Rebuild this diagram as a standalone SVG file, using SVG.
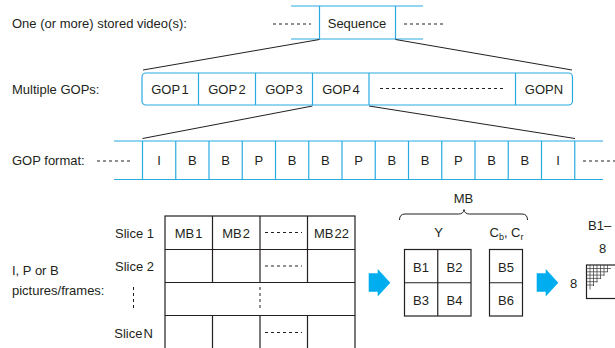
<svg xmlns="http://www.w3.org/2000/svg" width="615" height="348" viewBox="0 0 615 348">
  <style>
    text { font-family: "Liberation Sans", Arial, sans-serif; font-size: 13px; fill: #231f20; }
    .c { text-anchor: middle; }
    .r { text-anchor: end; }
    .blue { stroke: #29abe2; stroke-width: 1.2; fill: none; }
    .cell { stroke: #29abe2; stroke-width: 1.2; fill: #ffffff; }
    .blk { stroke: #231f20; stroke-width: 1.2; fill: #ffffff; }
    .zoom { stroke: #231f20; stroke-width: 1; fill: none; }
    .dash { stroke: #231f20; stroke-width: 1; stroke-dasharray: 3 3; fill: none; }
    .arrow { fill: #00aeef; }
    .grid { stroke: #333333; stroke-width: 0.7; fill: none; }
  </style>

  <!-- level labels -->
  <g id="labels">
    <text x="12" y="28">One (or more) stored video(s):</text>
    <text x="12" y="94">Multiple GOPs:</text>
    <text x="12" y="165">GOP format:</text>
    <text x="12" y="275">I, P or B</text>
    <text x="12" y="295">pictures/frames:</text>
  </g>

  <!-- stored video: sequence -->
  <g id="sequence">
    <line class="dash" x1="273" y1="24" x2="311" y2="24"/>
    <line class="dash" x1="404" y1="24" x2="443" y2="24"/>
    <line class="blue" x1="291" y1="6" x2="423" y2="6"/>
    <line class="blue" x1="291" y1="39" x2="423" y2="39"/>
    <line class="blue" x1="319.5" y1="6" x2="319.5" y2="39"/>
    <line class="blue" x1="395.5" y1="6" x2="395.5" y2="39"/>
    <text class="c" x="357" y="28">Sequence</text>
  </g>

  <!-- expansion connectors -->
  <g id="connectors">
    <line class="zoom" x1="319.5" y1="39.5" x2="143" y2="70"/>
    <line class="zoom" x1="395.5" y1="39.5" x2="572" y2="70"/>
    <line class="zoom" x1="312.5" y1="106" x2="142.5" y2="138.5"/>
    <line class="zoom" x1="369" y1="106" x2="575" y2="138.5"/>
  </g>

  <!-- GOPs -->
  <g id="gops">
    <rect class="cell" x="142" y="73" width="430.5" height="32" rx="4"/>
    <line class="blue" x1="198.5" y1="73" x2="198.5" y2="105"/>
    <line class="blue" x1="255.5" y1="73" x2="255.5" y2="105"/>
    <line class="blue" x1="312.5" y1="73" x2="312.5" y2="105"/>
    <line class="blue" x1="369" y1="73" x2="369" y2="105"/>
    <line class="blue" x1="515.5" y1="73" x2="515.5" y2="105"/>
    <text class="c" x="170" y="94">GOP<tspan dx="1.5">1</tspan></text>
    <text class="c" x="227" y="94">GOP<tspan dx="1.5">2</tspan></text>
    <text class="c" x="284" y="94">GOP<tspan dx="1.5">3</tspan></text>
    <text class="c" x="341" y="94">GOP<tspan dx="1.5">4</tspan></text>
    <line class="dash" x1="380" y1="88.5" x2="505" y2="88.5"/>
    <text class="c" x="544" y="94">GOPN</text>
  </g>

  <!-- GOP format: frame sequence -->
  <g id="gop-format">
    <line class="dash" x1="97" y1="161" x2="131" y2="161"/>
    <line class="dash" x1="583" y1="161" x2="615" y2="161"/>
    <line class="blue" x1="114" y1="141" x2="603" y2="141"/>
    <line class="blue" x1="114" y1="179.5" x2="603" y2="179.5"/>
    <g class="blue">
      <line x1="142.5" y1="141" x2="142.5" y2="179.5"/>
      <line x1="175.75" y1="141" x2="175.75" y2="179.5"/>
      <line x1="209" y1="141" x2="209" y2="179.5"/>
      <line x1="242.25" y1="141" x2="242.25" y2="179.5"/>
      <line x1="275.5" y1="141" x2="275.5" y2="179.5"/>
      <line x1="308.75" y1="141" x2="308.75" y2="179.5"/>
      <line x1="342" y1="141" x2="342" y2="179.5"/>
      <line x1="375.25" y1="141" x2="375.25" y2="179.5"/>
      <line x1="408.5" y1="141" x2="408.5" y2="179.5"/>
      <line x1="441.75" y1="141" x2="441.75" y2="179.5"/>
      <line x1="475" y1="141" x2="475" y2="179.5"/>
      <line x1="508.25" y1="141" x2="508.25" y2="179.5"/>
      <line x1="541.5" y1="141" x2="541.5" y2="179.5"/>
      <line x1="574.75" y1="141" x2="574.75" y2="179.5"/>
    </g>
    <text class="c" x="159.1" y="165">I</text>
    <text class="c" x="192.4" y="165">B</text>
    <text class="c" x="225.6" y="165">B</text>
    <text class="c" x="258.9" y="165">P</text>
    <text class="c" x="292.1" y="165">B</text>
    <text class="c" x="325.4" y="165">B</text>
    <text class="c" x="358.6" y="165">P</text>
    <text class="c" x="391.9" y="165">B</text>
    <text class="c" x="425.1" y="165">B</text>
    <text class="c" x="458.4" y="165">P</text>
    <text class="c" x="491.6" y="165">B</text>
    <text class="c" x="524.9" y="165">B</text>
    <text class="c" x="558.1" y="165">I</text>
  </g>

  <!-- picture split into slices of macroblocks -->
  <g id="slices">
    <text class="r" x="154" y="238">Slice 1</text>
    <text class="r" x="154" y="271">Slice 2</text>
    <line class="dash" x1="133.5" y1="287" x2="133.5" y2="311" stroke-dasharray="3 2.5"/>
    <text class="r" x="153" y="338" word-spacing="-2.5">Slice N</text>
    <rect class="blk" x="165" y="216" width="190" height="140"/>
    <g class="blk">
      <line x1="165" y1="249.5" x2="355" y2="249.5"/>
      <line x1="165" y1="282.5" x2="355" y2="282.5"/>
      <line x1="165" y1="315.5" x2="355" y2="315.5"/>
      <line x1="212.5" y1="216" x2="212.5" y2="282.5"/>
      <line x1="260" y1="216" x2="260" y2="282.5"/>
      <line x1="307.5" y1="216" x2="307.5" y2="282.5"/>
      <line x1="212.5" y1="315.5" x2="212.5" y2="348"/>
      <line x1="260" y1="315.5" x2="260" y2="348"/>
      <line x1="307.5" y1="315.5" x2="307.5" y2="348"/>
    </g>
    <line class="dash" x1="260" y1="287" x2="260" y2="311" stroke-dasharray="3 2.5"/>
    <text class="c" x="188.5" y="238">MB<tspan dx="1">1</tspan></text>
    <text class="c" x="236" y="238">MB<tspan dx="1">2</tspan></text>
    <text class="c" x="331.5" y="238">MB<tspan dx="1">22</tspan></text>
    <line class="dash" x1="265" y1="232.5" x2="302" y2="232.5"/>
    <line class="dash" x1="265" y1="266" x2="302" y2="266"/>
    <line class="dash" x1="265" y1="332.5" x2="302" y2="332.5"/>
  </g>

  <!-- flow arrows -->
  <g id="arrows">
    <path class="arrow" d="M368.7 273.3 H377.7 V269 L390.3 282.7 L377.7 296.5 V291.7 H368.7 Z"/>
    <path class="arrow" d="M536.7 273.3 H545.7 V269 L558.3 282.7 L545.7 296.5 V291.7 H536.7 Z"/>
  </g>

  <!-- macroblock: Y and chroma blocks -->
  <g id="macroblock">
    <text class="c" x="463.5" y="203">MB</text>
    <path class="zoom" d="M399.5 220 Q399.5 214 405 214 H458.5 Q463.5 214 464 209.5 Q464.5 214 469.5 214 H522 Q527.5 214 527.5 220"/>
    <text class="c" x="438.5" y="237">Y</text>
    <text class="c" x="506.5" y="237">C<tspan font-size="9" dy="3">b</tspan><tspan dy="-3">, C</tspan><tspan font-size="9" dy="3">r</tspan></text>
    <rect class="blk" x="404.5" y="249.5" width="66.5" height="66.5"/>
    <line class="blk" x1="437.75" y1="249.5" x2="437.75" y2="316"/>
    <line class="blk" x1="404.5" y1="282.75" x2="471" y2="282.75"/>
    <text class="c" x="421" y="271.5">B1</text>
    <text class="c" x="454.5" y="271.5">B2</text>
    <text class="c" x="421" y="305">B3</text>
    <text class="c" x="454.5" y="305">B4</text>
    <rect class="blk" x="489.5" y="249.5" width="33" height="66.5"/>
    <line class="blk" x1="489.5" y1="282.75" x2="522.5" y2="282.75"/>
    <text class="c" x="506" y="271.5">B5</text>
    <text class="c" x="506" y="305">B6</text>
  </g>

  <!-- 8x8 block -->
  <g id="block">
    <text x="588" y="229.5">B1–</text>
    <text class="c" x="602.5" y="253">8</text>
    <text class="c" x="573.5" y="287.5">8</text>
    <rect class="blk" x="586.5" y="265" width="34" height="33.5"/>
    <g class="grid">
      <line x1="586.5" y1="268.5" x2="611" y2="268.5"/>
      <line x1="586.5" y1="271.8" x2="608" y2="271.8"/>
      <line x1="586.5" y1="275.1" x2="604.5" y2="275.1"/>
      <line x1="586.5" y1="278.4" x2="601" y2="278.4"/>
      <line x1="586.5" y1="281.7" x2="597.5" y2="281.7"/>
      <line x1="586.5" y1="285" x2="594" y2="285"/>
      <line x1="590" y1="265" x2="590" y2="289.5"/>
      <line x1="593.5" y1="265" x2="593.5" y2="286"/>
      <line x1="597" y1="265" x2="597" y2="282.5"/>
      <line x1="600.5" y1="265" x2="600.5" y2="279"/>
      <line x1="604" y1="265" x2="604" y2="275.5"/>
      <line x1="607.5" y1="265" x2="607.5" y2="272"/>
    </g>
  </g>
</svg>
